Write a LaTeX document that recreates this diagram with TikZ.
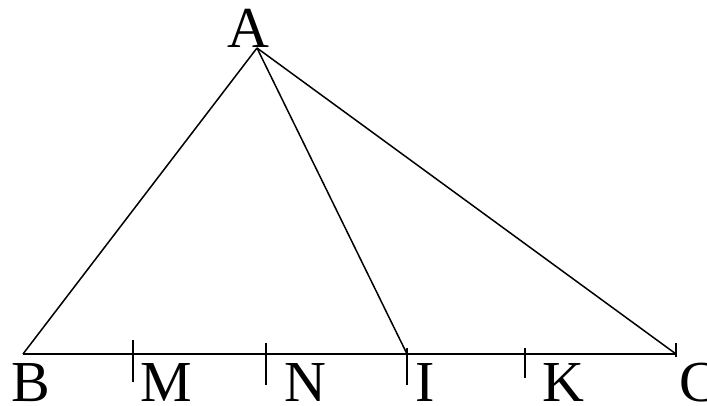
\documentclass[tikz,border=0pt]{standalone}
\usepackage{fontspec}
\setmainfont{Liberation Serif}
\begin{document}
\begin{tikzpicture}[x=1pt,y=-1pt,
  edge/.style={line width=1.5pt,black},
  tick/.style={line width=1.5pt,black},
  lbl/.style={anchor=base,inner sep=0pt,text depth=0pt,font=\fontsize{58}{58}\selectfont}]
\useasboundingbox (0,0) rectangle (707,406);
\coordinate (A) at (257,48);
\coordinate (B) at (23,354);
\coordinate (M) at (133,354);
\coordinate (N) at (266,354);
\coordinate (I) at (407,354);
\coordinate (K) at (525,354);
\coordinate (C) at (676,354);
\draw[edge] (B) -- (C);
\draw[edge] (A) -- (B);
\draw[edge] (A) -- (I);
\draw[edge] (A) -- (C);
\coordinate (Mt) at (133,340); \coordinate (Mb) at (133,382);
\coordinate (Nt) at (266,343); \coordinate (Nb) at (266,385);
\coordinate (It) at (407,348); \coordinate (Ib) at (407,385);
\coordinate (Kt) at (525,348); \coordinate (Kb) at (525,378);
\coordinate (Ct) at (676,343); \coordinate (Cb) at (676,357);
\draw[tick] (Mt) -- (Mb);
\draw[tick] (Nt) -- (Nb);
\draw[tick] (It) -- (Ib);
\draw[tick] (Kt) -- (Kb);
\draw[tick] (Ct) -- (Cb);
\node[lbl] (lA) at (248,48) {A};
\node[lbl] (lB) at (31,401) {B};
\node[lbl] (lM) at (166,401) {M};
\node[lbl] (lN) at (305,401) {N};
\node[lbl] (lI) at (425,401) {I};
\node[lbl] (lK) at (563,401) {K};
\node[lbl] (lC) at (699,401) {C};
\end{tikzpicture}
\end{document}
